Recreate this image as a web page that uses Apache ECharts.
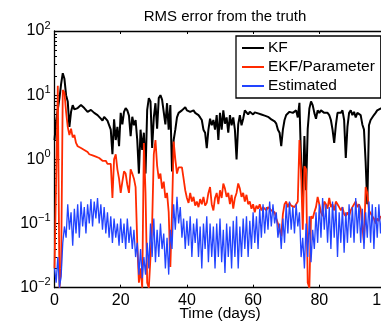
<!DOCTYPE html>
<html>
<head>
<meta charset="utf-8">
<script src="https://cdn.jsdelivr.net/npm/echarts@6/dist/echarts.min.js"></script>
<style>
html, body { margin: 0; padding: 0; background: #fff; }
#chart { width: 381px; height: 324px; }
</style>
</head>
<body>
<div id="chart"></div>
<script>
// samples every half day, 0 .. 100
var step = 0.5
var xTicks = [0, 20, 40, 60, 80, 100]
var yExps = [-2, -1, 0, 1, 2]

var kf = [
  2, 4, 6, 9, 15, 22, 18, 10, 8, 3.2,
  5.5, 7, 6, 5.8, 6.3, 6.5, 7, 6.8, 6.3, 6,
  5.5, 5.8, 5.9, 5.6, 5.3, 5.4, 4.9, 5, 4.3, 4.0,
  4.6, 4.4, 4.0, 3.8, 2.9, 1.2, 4.2, 2.0, 3.2, 1.6,
  5.3, 3.5, 5.5, 6.3, 5.8, 4.8, 2.3, 4.6, 3.4, 4.1,
  2.0, 0.6, 2.9, 1.4, 2.6, 0.6, 5.9, 9.0, 8.0, 1.5,
  4.5, 7.5, 3.0, 9.0, 10, 8.5, 8, 3.5, 7.5, 2.9,
  7, 0.65, 2.0, 2.9, 4.5, 5.3, 5.5, 5.8, 6.2, 6.5,
  5.8, 6.2, 5.5, 5.3, 5.8, 5.3, 5.5, 4.9, 4.5, 4.1,
  2.9, 2.6, 1.5, 2.9, 4.3, 3.4, 4.1, 2.9, 4.9, 2.0,
  5.3, 2.9, 5.8, 3.6, 4.5, 2.6, 4.9, 3.4, 4.5, 2.9,
  1.0, 3.5, 4.9, 3.4, 4.3, 5.8, 5.5, 5.0, 5.5, 5.3,
  5.0, 5.4, 5.6, 5.2, 5.3, 5.0, 4.9, 4.8, 4.5, 4.6,
  4.3, 4.2, 4.1, 3.9, 3.6, 2.9, 2.6, 1.6, 2.9, 4.1,
  4.9, 4.7, 5.5, 5.8, 5.3, 5.6, 5.8, 4.5, 7.6, 0.9,
  0.26, 2.3, 0.33, 3.0, 6.2, 8.0, 7.0, 5.3, 4.3, 5.8,
  5.3, 5.8, 5.5, 5.3, 5.5, 5.3, 4.9, 4.1, 2.9, 1.8,
  3.4, 5.3, 5.5, 5.3, 5.8, 4.1, 1.05, 3.2, 5.3, 5.8,
  4.9, 5.5, 4.5, 5.3, 5.5, 4.9, 3.5, 2.9, 0.9, 0.2,
  3.4, 4.1, 4.3, 4.9, 5.3, 5.8, 5.5, 6.2, 6.0, 6.3,
  6.2
]

var ekf = [
  0.02, 0.5, 14, 0.01, 0.02, 12, 11, 5.5, 3.2, 2.4,
  3.0, 2.2, 2.4, 1.8, 1.6, 1.7, 1.5, 1.6, 1.4, 1.5,
  1.3, 1.2, 1.25, 1.15, 1.2, 1.1, 1.15, 1.05, 1.0, 0.95,
  0.9, 0.95, 0.85, 0.8, 0.85, 0.25, 1.0, 1.2, 0.7, 0.5,
  0.3, 0.45, 0.65, 0.6, 0.4, 0.3, 0.7, 0.6, 0.5, 0.37,
  0.05, 0.012, 0.02, 0.01, 1.8, 0.3, 0.012, 0.01, 0.03, 0.1,
  1.2, 2.0, 0.8, 0.5, 0.6, 0.35, 0.45, 0.25, 0.3, 0.15,
  0.021, 0.15, 1.9, 1.0, 0.6, 0.75, 0.8, 0.75, 0.5, 0.33,
  0.25, 0.21, 0.3, 0.22, 0.26, 0.19, 0.22, 0.18, 0.24, 0.2,
  0.26, 0.19, 0.21, 0.3, 0.37, 0.2, 0.16, 0.25, 0.3, 0.2,
  0.33, 0.25, 0.42, 0.35, 0.26, 0.3, 0.2, 0.28, 0.17, 0.25,
  0.3, 0.42, 0.35, 0.26, 0.3, 0.22, 0.28, 0.2, 0.22, 0.17,
  0.2, 0.15, 0.19, 0.17, 0.2, 0.16, 0.18, 0.17, 0.16, 0.18,
  0.17, 0.16, 0.17, 0.15, 0.12, 0.1, 0.08, 0.063, 0.14, 0.2,
  0.22, 0.18, 0.21, 0.19, 0.2, 0.18, 0.2, 0.22, 2.0, 0.6,
  0.08, 0.78, 0.7, 0.012, 0.01, 0.13, 0.12, 0.15, 0.18, 0.26,
  0.2, 0.15, 0.13, 0.22, 0.2, 0.17, 0.25, 0.18, 0.2, 0.16,
  0.22, 0.2, 0.18, 0.16, 0.18, 0.14, 0.13, 0.15, 0.13, 0.16,
  0.18, 0.2, 0.22, 0.18, 0.2, 0.17, 0.18, 0.05, 0.37, 0.3,
  0.16, 0.17, 0.13, 0.12, 0.1, 0.12, 0.11, 0.13, 0.12, 0.14,
  0.12
]

var est = [
  0.02, 0.012, 0.03, 0.01, 0.015, 0.05, 0.09, 0.06, 0.2, 0.08,
  0.15, 0.045, 0.17, 0.07, 0.2, 0.06, 0.22, 0.09, 0.18, 0.07,
  0.2, 0.1, 0.24, 0.09, 0.22, 0.12, 0.25, 0.1, 0.2, 0.08,
  0.18, 0.07, 0.15, 0.06, 0.13, 0.05, 0.12, 0.06, 0.1, 0.045,
  0.12, 0.05, 0.1, 0.04, 0.12, 0.05, 0.09, 0.04, 0.08, 0.03,
  0.05, 0.016, 0.04, 0.014, 0.03, 0.016, 0.05, 0.02, 0.1, 0.03,
  0.12, 0.025, 0.08, 0.03, 0.1, 0.04, 0.07, 0.02, 0.06, 0.016,
  0.08, 0.04, 0.2, 0.08, 0.26, 0.1, 0.18, 0.06, 0.12, 0.04,
  0.11, 0.045, 0.13, 0.03, 0.1, 0.05, 0.12, 0.03, 0.09, 0.02,
  0.1, 0.04, 0.13, 0.025, 0.1, 0.03, 0.09, 0.02, 0.1, 0.03,
  0.12, 0.025, 0.08, 0.017, 0.1, 0.03, 0.09, 0.02, 0.11, 0.03,
  0.13, 0.02, 0.09, 0.03, 0.12, 0.04, 0.13, 0.03, 0.11, 0.04,
  0.15, 0.05, 0.13, 0.04, 0.17, 0.06, 0.2, 0.07, 0.18, 0.08,
  0.22, 0.09, 0.2, 0.1, 0.15, 0.06, 0.1, 0.04, 0.12, 0.05,
  0.2, 0.07, 0.22, 0.08, 0.18, 0.07, 0.2, 0.09, 0.15, 0.03,
  0.06, 0.02, 0.1, 0.03, 0.13, 0.025, 0.08, 0.04, 0.15, 0.05,
  0.2, 0.06, 0.25, 0.08, 0.2, 0.05, 0.18, 0.04, 0.22, 0.06,
  0.2, 0.03, 0.15, 0.05, 0.18, 0.035, 0.15, 0.05, 0.2, 0.06,
  0.18, 0.05, 0.25, 0.07, 0.2, 0.05, 0.17, 0.04, 0.15, 0.06,
  0.22, 0.05, 0.2, 0.04, 0.18, 0.06, 0.2, 0.07, 0.15, 0.06,
  0.18
]

function pairs(vals) {
  return vals.map(function (v, i) { return [i * step, v] })
}

var font = 'Liberation Sans, Arial, Helvetica, sans-serif'
var myChart = echarts.init(document.getElementById('chart'), null, { renderer: 'canvas' })

var option = {
  animation: false,
  backgroundColor: '#fff',
  textStyle: { fontFamily: font, color: '#000' },
  title: {
    text: 'RMS error from the truth',
    left: 220, textAlign: 'center', top: 4,
    textStyle: { fontFamily: font, fontSize: 15, fontWeight: 'normal', color: '#000' }
  },
  legend: {
    orient: 'vertical',
    left: 236, top: 36,
    padding: [3, 6, 3, 5],
    itemWidth: 22, itemHeight: 14, itemGap: 1,
    backgroundColor: '#fff',
    borderColor: '#000', borderWidth: 1.3, borderRadius: 0,
    itemStyle: { opacity: 0 },
    textStyle: { fontFamily: font, fontSize: 15.5, color: '#000', lineHeight: 18, padding: [0, 0, 0, -1] },
    data: ['KF', 'EKF/Parameter', 'Estimated']
  },
  grid: { left: 54.5, right: -4.5, top: 31, bottom: 36.3, outerBoundsMode: 'none', containLabel: false },
  xAxis: [{
    type: 'value', min: 0, max: 100, interval: 20,
    name: 'Time (days)', nameLocation: 'middle', nameGap: 18, nameMoveOverlap: false,
    nameTextStyle: { fontFamily: font, fontSize: 15.5, color: '#000' },
    axisLine: { lineStyle: { color: '#000', width: 1.3 } },
    axisTick: { inside: true, length: 3, lineStyle: { color: '#000' } },
    axisLabel: { fontFamily: font, fontSize: 16, color: '#000', margin: 5,
      formatter: function (v) { return xTicks.indexOf(v) >= 0 ? String(v) : '' } },
    splitLine: { show: false }
  }, {
    type: 'value', min: 0, max: 100, interval: 20, position: 'top',
    axisLine: { lineStyle: { color: '#000', width: 1.3 } },
    axisTick: { inside: true, length: 3, lineStyle: { color: '#000' } },
    axisLabel: { show: false },
    splitLine: { show: false }
  }],
  yAxis: {
    type: 'log', logBase: 10, min: 0.01, max: 100,
    axisLine: { show: true, lineStyle: { color: '#000', width: 1.3 } },
    axisTick: { inside: true, length: 5, lineStyle: { color: '#000' } },
    minorTick: { show: true, splitNumber: 9, length: 2.5, lineStyle: { color: '#000' } },
    splitLine: { show: false },
    axisLabel: {
      margin: 4,
      formatter: function (v) {
        var e = Math.round(Math.log10(v))
        if (yExps.indexOf(e) < 0) return ''
        return '{b|10}{s|' + String(e).replace('-', '\u2212') + '}'
      },
      rich: {
        b: { fontFamily: font, fontSize: 16, color: '#000' },
        s: { fontFamily: font, fontSize: 11, color: '#000', padding: [0, 0, 11, 0] }
      }
    }
  },
  series: [
    { name: 'KF', type: 'line', data: pairs(kf), symbol: 'none', color: '#000',
      lineStyle: { width: 2, color: '#000' } },
    { name: 'EKF/Parameter', type: 'line', data: pairs(ekf), symbol: 'none', color: '#ff2a00',
      lineStyle: { width: 1.8, color: '#ff2a00' } },
    { name: 'Estimated', type: 'line', data: pairs(est), symbol: 'none', color: '#2244ff',
      lineStyle: { width: 1.3, color: '#2244ff' } }
  ]
}
myChart.setOption(option)
</script>
</body>
</html>
